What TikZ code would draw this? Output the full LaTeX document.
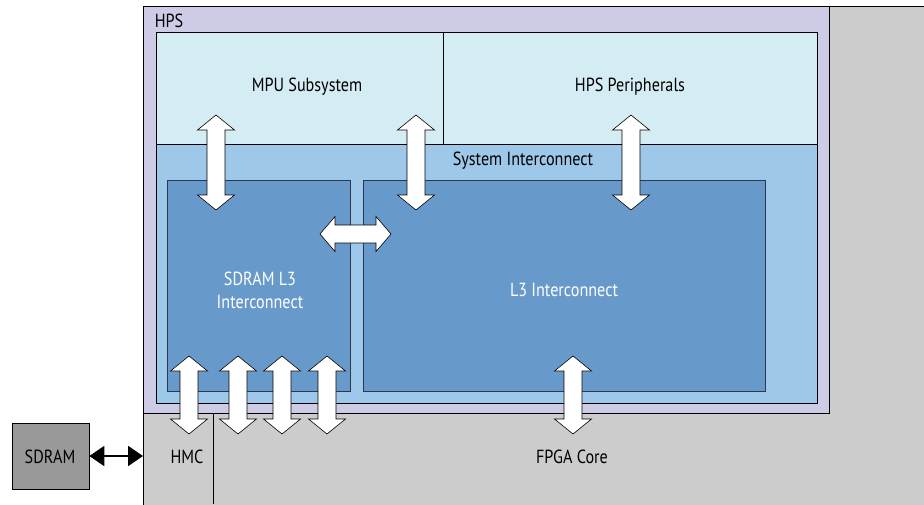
\documentclass[tikz,border=0pt]{standalone}
\usepackage{fontspec}
\setmainfont{PT Sans}[FakeStretch=0.85]
\usetikzlibrary{arrows.meta}
\definecolor{fpgagray}{HTML}{CCCCCC}
\definecolor{hpslav}{HTML}{CDCBE5}
\definecolor{topcyan}{HTML}{D4ECF3}
\definecolor{sysblue}{HTML}{9DC8EA}
\definecolor{l3blue}{HTML}{6899CB}
\definecolor{sdramgray}{HTML}{999999}
\definecolor{l3edge}{HTML}{2B3A4A}
\newcommand\VArrow[3]{% center x, top y, bottom y
  \draw[blockarrow] (#1,#2) -- (#1+18.5,#2+15) -- (#1+9,#2+15) -- (#1+9,#3-15)
    -- (#1+18.5,#3-15) -- (#1,#3) -- (#1-18.5,#3-15) -- (#1-9,#3-15)
    -- (#1-9,#2+15) -- (#1-18.5,#2+15) -- cycle;}
\newcommand\HArrow[3]{% center y, left x, right x
  \draw[blockarrow] (#2,#1) -- (#2+15,#1-17.5) -- (#2+15,#1-9) -- (#3-15,#1-9)
    -- (#3-15,#1-17.5) -- (#3,#1) -- (#3-15,#1+17.5) -- (#3-15,#1+9)
    -- (#2+15,#1+9) -- (#2+15,#1+17.5) -- cycle;}
\tikzset{
  box/.style={draw=black, line width=0.7pt, rectangle, inner sep=0pt, anchor=north west},
  l3box/.style={draw=l3edge, line width=0.9pt, fill=l3blue, rectangle, inner sep=0pt, anchor=north west},
  lbl/.style={font=\fontsize{19}{23}\selectfont, inner sep=0pt, text=black},
  wlbl/.style={lbl, text=white, align=center},
  blockarrow/.style={draw=black, fill=white, line width=0.6pt, line join=miter},
}
\begin{document}
\begin{tikzpicture}[x=1pt,y=-1pt]
\useasboundingbox (0,0) rectangle (924,504);
% FPGA core background
\node[box, fill=fpgagray, minimum width=790pt, minimum height=510pt] (fpga) at (143,6) {};
% HPS
\node[box, fill=hpslav, minimum width=686pt, minimum height=407pt] (hps) at (143,6) {};
% System interconnect
\node[box, fill=sysblue, minimum width=661pt, minimum height=259pt] (sys) at (156,144) {};
% MPU and peripherals
\node[box, fill=topcyan, minimum width=287pt, minimum height=112pt] (mpu) at (156,32) {};
\node[box, fill=topcyan, minimum width=374pt, minimum height=112pt] (per) at (443,32) {};
% L3 boxes
\node[l3box, minimum width=183pt, minimum height=211pt] (sdl3) at (167,180) {};
\node[l3box, minimum width=402pt, minimum height=211pt] (l3) at (363,180) {};
% HMC divider
\coordinate (hmctop) at (213,413);
\coordinate (hmcbot) at (213,504);
\draw[line width=0.7pt] (hmctop) -- (hmcbot);
% SDRAM
\node[box, anchor=center, fill=sdramgray, minimum width=77pt, minimum height=66pt] (sdram) at (50.5,456) {};
\coordinate (hmcin) at (143,456);
\draw[line width=2pt, {Triangle[length=15pt,width=20pt]}-{Triangle[length=15pt,width=20pt]}] (sdram.east) -- (hmcin);
% labels
\node[lbl] (hpsT) at (169,21) {HPS};
\node[lbl] (mpuT) at (307,87) {MPU Subsystem};
\node[lbl] (perT) at (630,87) {HPS Peripherals};
\node[lbl] (sysT) at (523,161) {System Interconnect};
\node[wlbl] (sdl3T) at (260,290) {SDRAM L3\\Interconnect};
\node[wlbl] (l3T) at (564,290) {L3 Interconnect};
\node[lbl] (hmcT) at (187,457) {HMC};
\node[lbl] (fpgaT) at (572,457) {FPGA Core};
\node[lbl] (sdramT) at (50,457) {SDRAM};
% block arrows
\VArrow{216}{115}{210}
\VArrow{416}{115}{210}
\VArrow{631}{115}{210}
\HArrow{234}{320}{391}
\VArrow{189}{356}{434}
\VArrow{238}{356}{434}
\VArrow{282}{356}{434}
\VArrow{327}{356}{434}
\VArrow{573}{356}{434}
\end{tikzpicture}
\end{document}
